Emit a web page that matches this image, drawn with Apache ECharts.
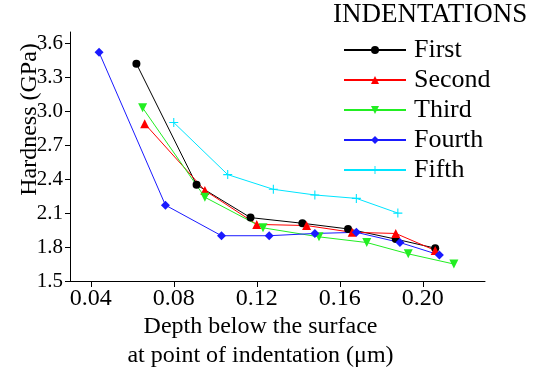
<!DOCTYPE html>
<html>
<head>
<meta charset="utf-8">
<script src="https://cdn.jsdelivr.net/npm/echarts@6/dist/echarts.min.js"></script>
<style>
  html, body { margin: 0; padding: 0; background: #fff; }
  #chart { width: 533px; height: 372px; }
</style>
</head>
<body>
<div id="chart"></div>
<script>
// depth (um) / hardness (GPa)
var firstX  = [0.062, 0.091, 0.117, 0.142, 0.164, 0.187, 0.206];
var firstY  = [3.42, 2.35, 2.06, 2.01, 1.96, 1.87, 1.79];
var secondX = [0.066, 0.095, 0.120, 0.144, 0.166, 0.187, 0.206];
var secondY = [2.89, 2.30, 2.00, 1.99, 1.93, 1.92, 1.77];
var thirdX  = [0.065, 0.095, 0.123, 0.150, 0.173, 0.193, 0.215];
var thirdY  = [3.03, 2.24, 1.97, 1.89, 1.84, 1.74, 1.65];
var fourthX = [0.044, 0.076, 0.103, 0.126, 0.148, 0.168, 0.189, 0.208];
var fourthY = [3.52, 2.17, 1.90, 1.90, 1.92, 1.93, 1.84, 1.73];
var fifthX  = [0.080, 0.106, 0.128, 0.148, 0.168, 0.188];
var fifthY  = [2.90, 2.44, 2.31, 2.26, 2.23, 2.10];

var xTicks = [0.04, 0.08, 0.12, 0.16, 0.20];
var yTicks = [1.5, 1.8, 2.1, 2.4, 2.7, 3.0, 3.3, 3.6];

var seriesNames = ['First', 'Second', 'Third', 'Fourth', 'Fifth'];

function pairs(xs, ys) {
    var out = [];
    for (var i = 0; i < xs.length; i++) out.push([xs[i], ys[i]]);
    return out;
}

var serif = '"Liberation Serif", "DejaVu Serif", serif';
var plusPath = 'path://M4.4,0H5.6V10H4.4ZM0,4.4H10V5.6H0Z';

function mkSeries(name, xs, ys, color, symbol, size, rotate) {
    return {
        name: name,
        type: 'line',
        data: pairs(xs, ys),
        symbol: symbol,
        symbolSize: size,
        symbolRotate: rotate || 0,
        showAllSymbol: true,
        lineStyle: { color: color, width: 1 },
        itemStyle: { color: color },
        animation: false
    };
}

var myChart = echarts.init(document.getElementById('chart'));

var option = {
    backgroundColor: '#fff',
    title: {
        text: 'INDENTATIONS',
        left: 333,
        top: 1,
        padding: 0,
        textStyle: { fontFamily: serif, fontSize: 27, fontWeight: 'normal', color: '#000' }
    },
    legend: {
        data: seriesNames,
        orient: 'vertical',
        left: 343,
        top: 37,
        padding: 0,
        itemWidth: 62,
        itemHeight: 10,
        itemGap: 4,
        textStyle: { fontFamily: serif, fontSize: 26, color: '#000', padding: [0, 0, 0, 3] }
    },
    grid: { left: 70, right: 48, top: 32, bottom: 91, outerBoundsMode: 'none', containLabel: false },
    xAxis: {
        type: 'value',
        min: 0.03,
        max: 0.23,
        name: 'Depth below the surface\nat point of indentation (μm)',
        nameLocation: 'middle',
        nameGap: 31,
        nameMoveOverlap: false,
        nameTextStyle: { fontFamily: serif, fontSize: 24, color: '#000', lineHeight: 29, padding: [0, 34, 0, 0] },
        splitLine: { show: false },
        axisLine: { lineStyle: { color: '#000', width: 1 } },
        axisTick: { customValues: xTicks, length: 6, inside: false, lineStyle: { color: '#000' } },
        axisLabel: {
            customValues: xTicks,
            fontFamily: serif, fontSize: 24, color: '#000', margin: 6,
            formatter: function (v) { return v.toFixed(2); }
        }
    },
    yAxis: {
        type: 'value',
        min: 1.5,
        max: 3.7,
        name: 'Hardness (GPa)',
        nameLocation: 'middle',
        nameRotate: 90,
        nameGap: 28,
        nameMoveOverlap: false,
        nameTextStyle: { fontFamily: serif, fontSize: 24, color: '#000', padding: [0, 0, 0, 74] },
        splitLine: { show: false },
        axisLine: { lineStyle: { color: '#000', width: 1 } },
        axisTick: { customValues: yTicks, length: 5, inside: false, lineStyle: { color: '#000' } },
        axisLabel: {
            customValues: yTicks,
            fontFamily: serif, fontSize: 21, color: '#000', margin: 7,
            formatter: function (v) { return v.toFixed(1); }
        }
    },
    series: [
        mkSeries('First', firstX, firstY, '#000000', 'circle', 8),
        mkSeries('Second', secondX, secondY, '#ff0000', 'triangle', 9),
        mkSeries('Third', thirdX, thirdY, '#22ee22', 'triangle', 9, 180),
        mkSeries('Fourth', fourthX, fourthY, '#1a1aff', 'diamond', 9),
        mkSeries('Fifth', fifthX, fifthY, '#00e5ff', plusPath, 9)
    ]
};

myChart.setOption(option);
</script>
</body>
</html>
